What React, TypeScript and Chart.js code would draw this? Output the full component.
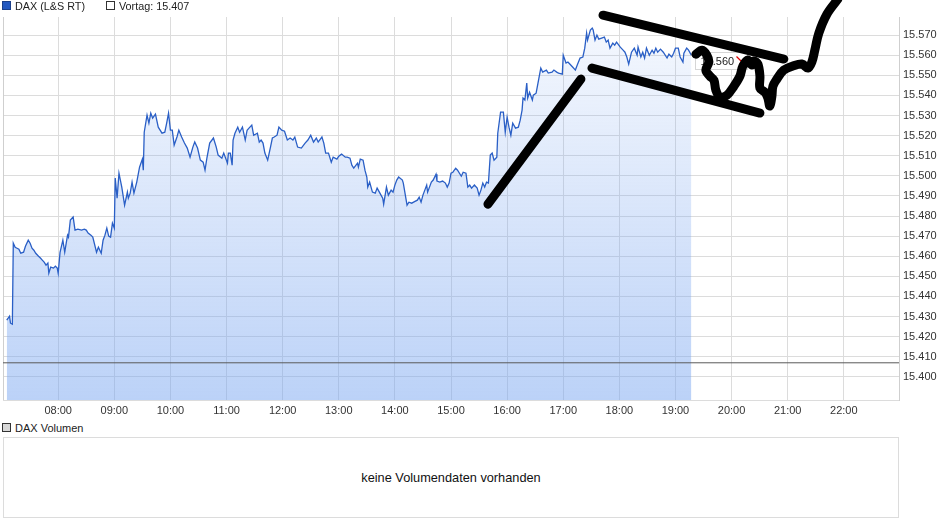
import React, { useEffect, useRef } from "react";
import { Chart, registerables } from "chart.js";

Chart.register(...registerables);

// ---- data ----
const times = [
  "7:05","7:08","7:09","7:11","7:12","7:14","7:16","7:18","7:20","7:23","7:25","7:28","7:30","7:32","7:34","7:36","7:39","7:41","7:43","7:45",
  "7:47","7:49","7:50","7:52","7:55","7:57","7:59","8:00","8:02","8:05","8:07","8:10","8:11","8:13","8:16","8:18","8:21","8:25","8:28","8:30",
  "8:32","8:35","8:37","8:41","8:43","8:46","8:48","8:50","8:52","8:54","8:56","8:58","9:00","9:01","9:03","9:05","9:08","9:11","9:14","9:15",
  "9:17","9:19","9:21","9:24","9:27","9:30","9:31","9:32","9:35","9:37","9:39","9:41","9:44","9:47","9:51","9:54","9:56","9:58","10:00","10:02",
  "10:04","10:07","10:09","10:12","10:15","10:18","10:21","10:24","10:26","10:29","10:32","10:35","10:37","10:39","10:42","10:46","10:49","10:51","10:55","10:57",
  "11:01","11:02","11:04","11:06","11:07","11:09","11:12","11:14","11:17","11:20","11:22","11:24","11:27","11:29","11:33","11:35","11:37","11:39","11:41","11:44",
  "11:47","11:49","11:51","11:54","11:56","11:59","12:02","12:05","12:08","12:11","12:13","12:16","12:20","12:24","12:27","12:30","12:33","12:36","12:38","12:42",
  "12:44","12:46","12:49","12:52","12:54","12:58","13:00","13:03","13:07","13:09","13:12","13:14","13:16","13:20","13:21","13:23","13:26","13:28","13:30","13:31",
  "13:33","13:36","13:39","13:41","13:44","13:47","13:48","13:51","13:53","13:56","13:58","14:00","14:02","14:04","14:08","14:09","14:13","14:15","14:18","14:20",
  "14:24","14:26","14:28","14:30","14:32","14:34","14:35","14:39","14:41","14:44","14:45","14:48","14:51","14:54","14:56","14:58","15:00","15:02","15:05","15:07",
  "15:11","15:13","15:16","15:18","15:20","15:22","15:25","15:28","15:30","15:32","15:34","15:36","15:38","15:40","15:42","15:44","15:46","15:49","15:50","15:53",
  "15:56","15:58","16:00","16:02","16:04","16:06","16:09","16:12","16:14","16:16","16:17","16:19","16:21","16:22","16:24","16:27","16:28","16:31","16:33","16:34",
  "16:36","16:38","16:42","16:44","16:48","16:50","16:53","16:55","16:59","17:00","17:03","17:05","17:07","17:10","17:13","17:15","17:18","17:21","17:23","17:25",
  "17:26","17:29","17:31","17:32","17:34","17:36","17:38","17:41","17:44","17:46","17:48","17:50","17:53","17:55","17:57","18:01","18:04","18:06","18:08","18:10",
  "18:13","18:16","18:19","18:20","18:23","18:25","18:27","18:29","18:32","18:35","18:37","18:39","18:41","18:44","18:47","18:51","18:53","18:56","18:58","19:00",
  "19:03","19:05","19:08","19:09","19:12","19:14","19:17"
];

const prices = [
  15428.2,15430.2,15426.7,15426.2,15466.5,15464.5,15464.0,15463.5,15461.5,15462.0,15465.0,15468.0,15466.5,15464.0,15463.0,15461.5,15460.0,15459.1,15458.1,15457.1,
  15455.6,15456.6,15451.6,15454.6,15454.1,15455.1,15454.1,15451.6,15462.0,15468.0,15462.0,15470.5,15469.5,15478.0,15479.5,15473.0,15473.5,15473.0,15473.5,15473.0,
  15471.5,15470.5,15469.5,15462.0,15464.5,15461.5,15468.0,15470.5,15474.0,15470.0,15469.5,15476.5,15474.0,15498.9,15488.9,15501.3,15494.4,15485.4,15491.9,15488.9,
  15491.4,15496.9,15491.4,15496.9,15504.3,15508.3,15502.8,15521.7,15530.2,15526.2,15531.2,15528.7,15530.7,15524.2,15521.2,15521.7,15526.2,15531.2,15522.7,15522.7,
  15515.3,15519.3,15522.7,15519.3,15516.3,15513.8,15509.3,15514.3,15516.8,15513.8,15507.8,15506.8,15502.8,15508.8,15516.3,15518.8,15514.3,15510.3,15508.8,15511.3,
  15506.3,15511.3,15511.3,15505.3,15517.8,15521.2,15524.2,15521.7,15524.2,15517.8,15522.7,15523.7,15525.2,15520.2,15521.2,15516.8,15517.8,15516.3,15511.3,15507.8,
  15514.3,15518.8,15519.3,15520.2,15524.2,15522.7,15522.2,15517.8,15518.8,15517.8,15519.3,15514.3,15513.8,15516.3,15517.8,15520.2,15516.8,15518.8,15516.8,15519.3,
  15516.3,15511.3,15511.3,15506.8,15509.3,15508.3,15509.8,15510.8,15509.3,15509.3,15508.8,15505.3,15503.8,15506.3,15504.3,15508.3,15507.8,15502.8,15499.4,15494.4,
  15496.9,15491.9,15491.4,15493.9,15491.4,15488.9,15485.9,15494.4,15490.4,15492.9,15491.9,15495.4,15497.9,15499.4,15497.9,15496.4,15485.4,15486.9,15486.4,15486.9,
  15487.9,15489.4,15486.9,15490.4,15492.9,15495.4,15491.9,15496.9,15497.9,15500.8,15497.4,15496.9,15497.4,15496.4,15494.4,15496.4,15501.3,15501.8,15503.8,15502.8,
  15499.8,15501.8,15501.3,15494.4,15495.4,15493.9,15495.4,15493.9,15490.4,15492.9,15496.4,15494.4,15496.9,15496.4,15510.3,15511.3,15507.8,15509.3,15521.2,15531.7,
  15531.7,15521.7,15529.2,15524.2,15520.2,15526.2,15523.7,15524.2,15527.7,15532.7,15538.7,15537.7,15546.1,15538.7,15541.6,15537.7,15540.1,15541.1,15546.1,15548.6,
  15553.6,15551.6,15552.6,15551.1,15551.6,15552.6,15551.6,15551.1,15550.6,15560.0,15556.1,15556.6,15555.6,15554.1,15552.6,15555.1,15558.6,15559.1,15563.5,15571.0,
  15567.5,15572.5,15573.5,15572.5,15567.5,15570.0,15568.0,15568.5,15569.0,15566.5,15567.5,15563.5,15566.0,15565.0,15566.5,15564.0,15562.5,15561.5,15559.1,15555.6,
  15561.5,15563.5,15560.0,15564.0,15559.1,15561.5,15558.6,15563.5,15560.0,15562.5,15561.0,15563.5,15561.5,15563.0,15561.5,15558.6,15560.5,15559.1,15561.0,15563.5,
  15563.5,15559.1,15556.6,15561.0,15563.5,15562.5,15560.0
];

const VORTAG = 15407;
const LAST_LABEL = "15.560";
const hourTicks = ["08:00","09:00","10:00","11:00","12:00","13:00","14:00","15:00","16:00","17:00","18:00","19:00","20:00","21:00","22:00"];
const yTicks = [15400,15410,15420,15430,15440,15450,15460,15470,15480,15490,15500,15510,15520,15530,15540,15550,15560,15570];
const X_MIN = "07:01";
const X_MAX = "22:59";
const Y_MIN = 15388.5;
const Y_MAX = 15579;

// hand-drawn marks on the chart: [minutes since midnight, index points]
const strokeRise = [[939.5, 15485.9], [1038.9, 15548.1]];
const strokeUpper = [[1062.5, 15579.9], [1255.9, 15558.1]];
const strokeLower = [[1050.7, 15553.6], [1230.3, 15531.2]];
const strokeSquiggle = [
  [1161.9,15560.5],[1168.3,15562.5],[1173.6,15560.0],[1175.7,15556.6],[1172.5,15552.6],[1176.8,15549.6],
  [1181.1,15547.6],[1183.2,15542.6],[1187.5,15539.2],[1195.0,15540.1],[1202.5,15544.6],[1208.9,15549.6],
  [1212.1,15554.6],[1217.4,15557.6],[1221.7,15555.1],[1223.8,15557.1],[1228.1,15555.6],[1230.3,15549.6],
  [1230.3,15543.6],[1235.6,15541.6],[1238.8,15538.7],[1240.9,15534.7],[1243.1,15539.6],[1244.2,15544.6],
  [1248.4,15548.1],[1255.9,15552.6],[1265.5,15554.6],[1275.2,15555.6],[1281.6,15553.6],[1285.8,15556.6],
  [1289.0,15562.5],[1293.3,15571.0],[1301.9,15580.4],[1313.6,15587.9]
];

const FONT = '"Liberation Sans", Arial, Helvetica, sans-serif';

function toMin(s: string): number {
  const [h, m] = s.split(":").map(Number);
  return h * 60 + m;
}
function fmtHour(v: number): string {
  const h = Math.floor(v / 60);
  const m = Math.round(v - h * 60);
  return String(h).padStart(2, "0") + ":" + String(m).padStart(2, "0");
}
function fmtDe(v: number): string {
  return (v / 1000).toFixed(3);
}

export default function App() {
  const ref = useRef<HTMLCanvasElement>(null);

  useEffect(() => {
    const canvas = ref.current;
    if (!canvas) return;
    const priceData = times.map((t, i) => ({ x: toMin(t), y: prices[i] }));
    const xMin = toMin(X_MIN);
    const xMax = toMin(X_MAX);

    const strokeDs = (pts: number[][], tension: number) => ({
      type: "line" as const,
      data: pts.map(([x, y]) => ({ x, y })),
      borderColor: "#000",
      borderWidth: 9,
      borderCapStyle: "round" as const,
      borderJoinStyle: "round" as const,
      pointRadius: 0,
      fill: false,
      tension,
      clip: false as any,
      order: 0,
    });

    const lastLabel = {
      id: "lastLabel",
      afterDatasetDraw(chart: any, args: any) {
        if (args.index !== 0) return;
        const c = chart.ctx;
        const px = chart.scales.x.getPixelForValue(priceData[priceData.length - 1].x);
        const py = chart.scales.y.getPixelForValue(prices[prices.length - 1]);
        const left = Math.round(px) + 4.5;
        const top = Math.round(py) - 2.5;
        const w = 52, h = 17;
        c.save();
        c.fillStyle = "#fff";
        c.fillRect(left, top, w, h);
        c.strokeStyle = "#d6d6d6";
        c.lineWidth = 1;
        c.strokeRect(left, top, w, h);
        c.font = `11px ${FONT}`;
        c.fillStyle = "#222";
        c.textBaseline = "middle";
        c.textAlign = "left";
        c.fillText(LAST_LABEL, left + 5, top + h / 2 + 0.5);
        // red arrow pointing down-right
        const ax = left + 41, ay = top + 4;
        c.strokeStyle = "#e00000";
        c.fillStyle = "#e00000";
        c.lineWidth = 1.3;
        c.beginPath();
        c.moveTo(ax, ay);
        c.lineTo(ax + 6, ay + 6);
        c.stroke();
        c.beginPath();
        c.moveTo(ax + 7.5, ay + 7.5);
        c.lineTo(ax + 7.5, ay + 2.5);
        c.lineTo(ax + 2.5, ay + 7.5);
        c.closePath();
        c.fill();
        c.restore();
      },
    };

    const leftBorder = {
      id: "leftBorder",
      beforeDatasetsDraw(chart: any) {
        const c = chart.ctx;
        const a = chart.chartArea;
        c.save();
        c.strokeStyle = "#cfcfcf";
        c.lineWidth = 1;
        c.beginPath();
        c.moveTo(Math.round(a.left) + 0.5, a.top);
        c.lineTo(Math.round(a.left) + 0.5, a.bottom);
        c.stroke();
        c.restore();
      },
    };

    const chart = new Chart(canvas, {
      type: "line",
      data: {
        datasets: [
          {
            label: "DAX (L&S RT)",
            data: priceData,
            borderColor: "#2a5fc6",
            borderWidth: 1.3,
            pointRadius: 0,
            tension: 0,
            fill: "start",
            backgroundColor: (ctx: any) => {
              const { chart: ch } = ctx;
              const area = ch.chartArea;
              if (!area) return "rgba(120,165,240,0.3)";
              const g = ch.ctx.createLinearGradient(0, area.top, 0, area.bottom);
              g.addColorStop(0, "rgba(130,170,240,0.08)");
              g.addColorStop(1, "rgba(120,165,240,0.5)");
              return g;
            },
            order: 2,
          },
          {
            label: "Vortag",
            data: [{ x: xMin, y: VORTAG }, { x: xMax, y: VORTAG }],
            borderColor: "#5a5a5a",
            borderWidth: 1,
            pointRadius: 0,
            fill: false,
            order: 1,
          },
          strokeDs(strokeRise, 0),
          strokeDs(strokeUpper, 0),
          strokeDs(strokeLower, 0),
          strokeDs(strokeSquiggle, 0.35),
        ] as any,
      },
      options: {
        responsive: false,
        maintainAspectRatio: false,
        animation: false,
        layout: { padding: { top: 17, left: 3, right: 0, bottom: 0 } },
        plugins: { legend: { display: false }, tooltip: { enabled: false } },
        scales: {
          x: {
            type: "linear",
            min: xMin,
            max: xMax,
            afterBuildTicks: (s: any) => {
              s.ticks = hourTicks.map((h) => ({ value: toMin(h) }));
            },
            afterFit: (s: any) => {
              s.height = 20;
            },
            ticks: {
              callback: (v: any) => fmtHour(Number(v)),
              font: { family: FONT, size: 11 },
              color: "#333",
              padding: 4,
              maxRotation: 0,
              autoSkip: false,
            },
            grid: { color: "#dcdcdc", drawTicks: false },
            border: { color: "#dcdcdc" },
          },
          y: {
            position: "right",
            min: Y_MIN,
            max: Y_MAX,
            afterBuildTicks: (s: any) => {
              s.ticks = yTicks.map((v) => ({ value: v }));
            },
            afterFit: (s: any) => {
              s.width = 41;
            },
            ticks: {
              callback: (v: any) => fmtDe(Number(v)),
              font: { family: FONT, size: 11 },
              color: "#333",
              padding: 4,
              autoSkip: false,
            },
            grid: { color: "#dcdcdc", drawTicks: false },
            border: { color: "#cfcfcf" },
          },
        },
      } as any,
      plugins: [leftBorder, lastLabel],
    });
    return () => chart.destroy();
  }, []);

  const sq = (bg: string, bd: string): React.CSSProperties => ({
    display: "inline-block",
    width: 7,
    height: 7,
    background: bg,
    border: `1px solid ${bd}`,
    marginRight: 4,
    verticalAlign: "-0px",
  });

  return (
    <div style={{ position: "absolute", left: 0, top: 0, width: 940, height: 526, background: "#fff", fontFamily: FONT, color: "#222" }}>
      <canvas ref={ref} width={940} height={420} style={{ position: "absolute", left: 0, top: 0, width: 940, height: 420 }} />
      <div style={{ position: "absolute", left: 2, top: 0, fontSize: 10.8, lineHeight: "12px", whiteSpace: "nowrap" }}>
        <span style={sq("#2358c0", "#1a3f8a")} />
        <span>DAX (L&amp;S RT)</span>
        <span style={{ display: "inline-block", width: 21 }} />
        <span style={sq("#fff", "#333")} />
        <span>Vortag: 15.407</span>
      </div>
      <div style={{ position: "absolute", left: 2, top: 422, fontSize: 11, lineHeight: "12px", whiteSpace: "nowrap" }}>
        <span style={sq("#d8d8d8", "#333")} />
        <span>DAX Volumen</span>
      </div>
      <div
        style={{
          position: "absolute",
          left: 3,
          top: 437,
          width: 894,
          height: 79,
          border: "1px solid #dcdcdc",
          display: "flex",
          alignItems: "center",
          justifyContent: "center",
          fontSize: 12.75,
          color: "#111",
        }}
      >
        keine Volumendaten vorhanden
      </div>
    </div>
  );
}
